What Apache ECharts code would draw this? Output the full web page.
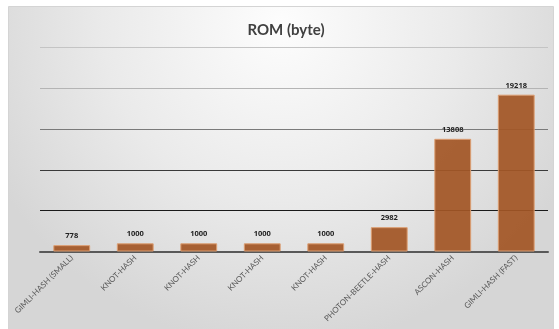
<!DOCTYPE html>
<html>
<head>
<meta charset="utf-8">
<script src="https://cdn.jsdelivr.net/npm/echarts@6/dist/echarts.min.js"></script>
<style>
  html, body { margin: 0; padding: 0; background: #ffffff; }
  #chart { width: 559px; height: 329px; }
</style>
</head>
<body>
<div id="chart"></div>
<script>
// ROM footprint of lightweight hash implementations
const categories = [
  'GIMLI-HASH (SMALL)', 'KNOT-HASH', 'KNOT-HASH', 'KNOT-HASH',
  'KNOT-HASH', 'PHOTON-BEETLE-HASH', 'ASCON-HASH', 'GIMLI-HASH (FAST)'
];
const romBytes = [778, 1000, 1000, 1000, 1000, 2982, 13808, 19218];
const chartTitle = 'ROM (byte)';

const chart = echarts.init(document.getElementById('chart'), null, { renderer: 'canvas' });

chart.setOption({
  animation: false,
  backgroundColor: '#ffffff',
  graphic: [{
    type: 'rect',
    z: -10,
    silent: true,
    shape: { x: 8.5, y: 6.5, width: 545, height: 340 },
    style: {
      fill: {
        type: 'radial', x: 0.5, y: 0.05, r: 0.95,
        colorStops: [
          { offset: 0, color: '#fdfdfd' },
          { offset: 0.55, color: '#eaeaea' },
          { offset: 1, color: '#d6d6d6' }
        ]
      },
      stroke: '#d4d4d4',
      lineWidth: 1
    }
  }],
  title: {
    text: chartTitle,
    left: 281,
    textAlign: 'center',
    top: 18,
    textStyle: {
      fontFamily: 'Lato',
      fontWeight: 'bold',
      fontSize: 15,
      color: '#404040'
    }
  },
  grid: { left: 40, right: 11, top: 47.5, bottom: 77.5, containLabel: false },
  xAxis: {
    type: 'category',
    data: categories,
    axisTick: { show: false },
    axisLine: { lineStyle: { color: '#595959', width: 2 } },
    axisLabel: {
      rotate: 45,
      interval: 0,
      margin: 5,
      fontFamily: 'Lato',
      fontSize: 8,
      color: '#595959'
    }
  },
  yAxis: {
    type: 'value',
    min: 0,
    max: 25000,
    interval: 5000,
    axisLabel: { show: false },
    axisLine: { show: false },
    axisTick: { show: false },
    splitLine: {
      lineStyle: {
        color: ['#595959', '#1a1a1a', '#3a3a3a', '#7a7a7a', '#b4b4b4', '#c4c4c4'],
        width: 1
      }
    }
  },
  series: [{
    type: 'bar',
    data: romBytes,
    barWidth: '58%',
    z: 1,
    itemStyle: {
      color: 'rgba(163, 86, 38, 0.93)',
      borderColor: '#dc9e72',
      borderWidth: 1
    },
    label: {
      show: true,
      position: 'top',
      distance: 5,
      fontFamily: 'Open Sans',
      fontWeight: 'bold',
      fontSize: 7.5,
      color: '#222222'
    }
  }]
});
</script>
</body>
</html>
